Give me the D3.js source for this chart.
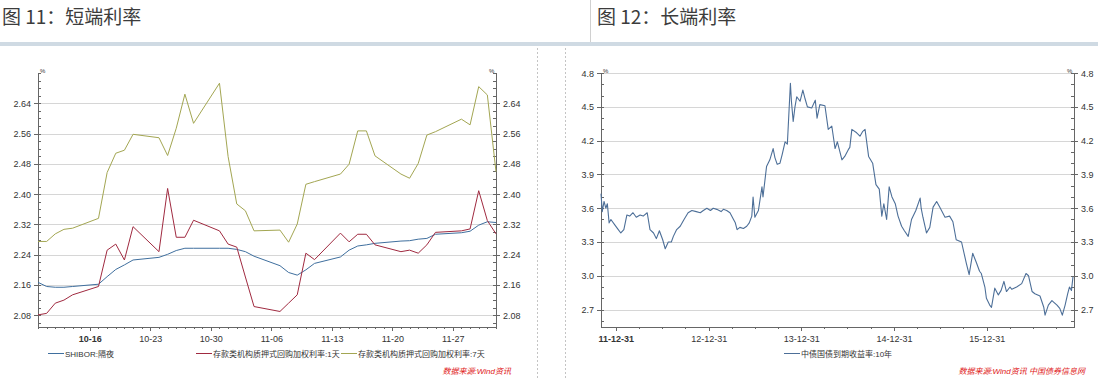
<!DOCTYPE html>
<html>
<head>
<meta charset="utf-8">
<script src="https://cdn.jsdelivr.net/npm/d3@7"></script>
<style>
body { margin: 0; background: #fff; }
svg { display: block; font-family: "Liberation Sans", "Noto Sans CJK SC", sans-serif; }
.axis path, .axis line { stroke: #666; shape-rendering: crispEdges; }
.axis text { fill: #333; font-size: 9px; }
</style>
</head>
<body>
<svg width="1098" height="379"></svg>
<script>
// ---- data: short rates (Oct-Dec 2016) ----
const rateDates = ["2016-10-10","2016-10-11","2016-10-12","2016-10-13","2016-10-14",
  "2016-10-17","2016-10-18","2016-10-19","2016-10-20","2016-10-21",
  "2016-10-24","2016-10-25","2016-10-26","2016-10-27","2016-10-28",
  "2016-10-31","2016-11-01","2016-11-02","2016-11-03","2016-11-04",
  "2016-11-07","2016-11-08","2016-11-09","2016-11-10","2016-11-11",
  "2016-11-14","2016-11-15","2016-11-16","2016-11-17","2016-11-18",
  "2016-11-21","2016-11-22","2016-11-23","2016-11-24","2016-11-25",
  "2016-11-28","2016-11-29","2016-11-30","2016-12-01","2016-12-02"];
const shibor = [2.167,2.156,2.154,2.154,2.156, 2.162,2.182,2.201,2.213,2.226,
  2.233,2.241,2.251,2.257,2.257, 2.257,2.257,2.254,2.248,2.236,
  2.211,2.193,2.186,2.200,2.217, 2.234,2.252,2.263,2.266,2.270,
  2.276,2.277,2.281,2.283,2.294, 2.298,2.302,2.318,2.327,2.325];
const dr001 = [2.081,2.085,2.112,2.120,2.134, 2.156,2.252,2.268,2.226,2.314,
  2.248,2.415,2.286,2.286,2.331, 2.303,2.268,2.260,2.181,2.103,
  2.090,2.112,2.134,2.244,2.227, 2.297,2.274,2.294,2.294,2.266,
  2.248,2.252,2.244,2.266,2.299, 2.303,2.308,2.409,2.330,2.295];
const dr007 = [2.275,2.275,2.295,2.307,2.310, 2.336,2.457,2.508,2.516,2.558,
  2.549,2.502,2.574,2.664,2.587, 2.693,2.499,2.374,2.356,2.303,
  2.305,2.273,2.321,2.426,2.433, 2.453,2.479,2.567,2.567,2.501,
  2.453,2.442,2.481,2.556,2.565, 2.598,2.583,2.684,2.662,2.459];
const rateTicks = [2.08,2.16,2.24,2.32,2.40,2.48,2.56,2.64];
const dayTicks = ["2016-10-16","2016-10-23","2016-10-30","2016-11-06","2016-11-13","2016-11-20","2016-11-27"];

// ---- data: 10y government bond yield ----
const bondDates = ["2011-11-03","2011-11-08","2011-11-15","2011-11-22","2011-11-28","2011-12-05","2011-12-12","2011-12-28",
  "2012-01-10","2012-01-20","2012-02-01","2012-02-13","2012-02-24","2012-03-08","2012-03-21","2012-04-05","2012-04-17",
  "2012-05-03","2012-05-14","2012-05-28","2012-06-08","2012-06-20","2012-07-03","2012-07-13","2012-07-25","2012-08-06",
  "2012-08-14","2012-08-27","2012-09-10","2012-09-25","2012-10-11","2012-10-26","2012-11-12","2012-11-28","2012-12-10",
  "2012-12-24","2013-01-07","2013-01-18","2013-02-01","2013-02-18","2013-02-27","2013-03-12","2013-03-25","2013-04-08",
  "2013-04-15","2013-04-22","2013-05-03","2013-05-17","2013-05-30","2013-06-09","2013-06-19","2013-06-24","2013-07-01",
  "2013-07-15","2013-07-29","2013-08-02","2013-08-16","2013-08-29","2013-09-11","2013-09-18","2013-09-27","2013-10-08",
  "2013-10-17","2013-10-28","2013-11-06","2013-11-18","2013-11-22","2013-11-29","2013-12-06","2013-12-13","2013-12-26",
  "2014-01-06","2014-01-15","2014-01-24","2014-02-10","2014-02-24","2014-03-03","2014-03-14","2014-04-03","2014-04-16",
  "2014-04-30","2014-05-13","2014-05-22","2014-06-09","2014-06-20","2014-07-04","2014-07-10","2014-07-18","2014-08-06",
  "2014-08-19","2014-08-29","2014-09-08","2014-09-22","2014-10-08","2014-10-21","2014-11-03","2014-11-13","2014-11-21",
  "2014-12-02","2014-12-12","2014-12-23","2015-01-05","2015-01-16","2015-01-30","2015-02-10","2015-02-25","2015-03-10",
  "2015-03-27","2015-04-13","2015-04-17","2015-04-24","2015-05-08","2015-05-21","2015-06-03","2015-06-17","2015-06-29",
  "2015-07-20","2015-08-07","2015-08-20","2015-09-02","2015-09-23","2015-10-12","2015-10-23","2015-11-06","2015-11-20",
  "2015-12-03","2015-12-10","2015-12-24","2015-12-30","2016-01-12","2016-01-19","2016-02-01","2016-02-15","2016-02-26",
  "2016-03-08","2016-03-18","2016-04-01","2016-04-08","2016-04-27","2016-05-17","2016-06-03","2016-06-13","2016-06-27",
  "2016-07-08","2016-07-28","2016-08-12","2016-08-17","2016-08-30","2016-09-13","2016-10-03","2016-10-14","2016-10-24",
  "2016-11-04","2016-11-14","2016-11-21","2016-11-29","2016-12-05"];
const bondYield = [3.73,3.57,3.66,3.60,3.64,3.47,3.50,3.45,
  3.41,3.38,3.41,3.54,3.53,3.56,3.52,3.54,3.53,
  3.56,3.41,3.38,3.33,3.40,3.32,3.24,3.30,3.30,
  3.35,3.41,3.44,3.50,3.56,3.58,3.57,3.56,3.58,
  3.60,3.58,3.60,3.59,3.57,3.59,3.58,3.56,3.50,
  3.47,3.41,3.43,3.42,3.44,3.47,3.53,3.70,3.52,
  3.58,3.79,3.70,3.97,4.03,4.13,4.05,3.99,4.00,
  4.08,4.19,4.17,4.71,4.55,4.37,4.50,4.59,4.55,
  4.65,4.57,4.50,4.49,4.56,4.40,4.52,4.51,4.30,
  4.33,4.13,4.19,4.03,4.06,4.12,4.14,4.30,4.27,
  4.24,4.28,4.30,4.06,4.00,3.81,3.77,3.53,3.64,
  3.50,3.79,3.70,3.64,3.53,3.44,3.40,3.35,3.50,
  3.58,3.69,3.60,3.52,3.38,3.43,3.61,3.66,3.61,
  3.52,3.53,3.48,3.32,3.30,3.11,3.01,3.20,3.12,
  3.04,3.02,2.90,2.80,2.74,2.72,2.89,2.83,2.87,
  2.95,2.86,2.90,2.88,2.90,2.93,3.02,3.00,2.86,
  2.84,2.82,2.72,2.65,2.74,2.78,2.74,2.71,2.65,
  2.74,2.84,2.90,2.87,2.99];
const bondTicks = [2.7,3.0,3.3,3.6,3.9,4.2,4.5,4.8];
const yearTicks = ["2011-12-31","2012-12-31","2013-12-31","2014-12-31","2015-12-31"];

const parse = d3.timeParse("%Y-%m-%d");
const svg = d3.select("svg");

// header
svg.append("rect").attr("x", 0).attr("y", 42).attr("width", 1098).attr("height", 4).attr("fill", "#cfdae3");
svg.append("line").attr("x1", 590.5).attr("x2", 590.5).attr("y1", 0).attr("y2", 42).attr("stroke", "#d0d0d0");
[[2, "图 11：短端利率"], [597, "图 12：长端利率"]].forEach(t => {
  svg.append("text").attr("x", t[0]).attr("y", 24).text(t[1])
    .style("font-family", "'Noto Sans CJK SC'").style("font-size", "19px").attr("fill", "#3c3c3c");
});
[537.5, 565.5].forEach(x => {
  svg.append("line").attr("x1", x).attr("x2", x).attr("y1", 48).attr("y2", 379)
    .attr("stroke", "#c4c4c4").attr("stroke-dasharray", "2,2");
});

function panel(o) {
  const g = svg.append("g");
  const x = d3.scaleTime().domain(o.xDomain).range([o.x0, o.x1]);
  const y = d3.scaleLinear().domain(o.yDomain).range([327, 72]);

  // grid
  g.append("g").selectAll("line").data(o.yTicks).join("line")
    .attr("x1", o.x0).attr("x2", o.x1)
    .attr("y1", d => Math.round(y(d)) + 0.5).attr("y2", d => Math.round(y(d)) + 0.5)
    .attr("stroke", "#d6d6d6");

  // y axes, majors outward, minors inward
  g.append("g").attr("class", "axis").attr("transform", `translate(${o.x0},0)`)
    .call(d3.axisLeft(y).tickValues(o.yTicks).tickSize(4).tickSizeOuter(0).tickFormat(o.yFmt));
  g.append("g").attr("class", "axis").attr("transform", `translate(${o.x0},0)`)
    .call(d3.axisRight(y).tickValues(o.yMinor).tickSize(3).tickSizeOuter(0).tickFormat(""));
  g.append("g").attr("class", "axis").attr("transform", `translate(${o.x1},0)`)
    .call(d3.axisRight(y).tickValues(o.yTicks).tickSize(4).tickSizeOuter(0).tickFormat(o.yFmt));
  g.append("g").attr("class", "axis").attr("transform", `translate(${o.x1},0)`)
    .call(d3.axisLeft(y).tickValues(o.yMinor).tickSize(3).tickSizeOuter(0).tickFormat(""));

  // x axis
  g.append("g").attr("class", "axis").attr("transform", "translate(0,327)")
    .call(d3.axisBottom(x).tickValues(o.xMinor).tickSize(2).tickSizeOuter(0).tickFormat(""));
  const xa = g.append("g").attr("class", "axis").attr("transform", "translate(0,327)")
    .call(d3.axisBottom(x).tickValues(o.xTicks).tickSize(4).tickSizeOuter(0).tickFormat(o.xFmt));
  xa.selectAll("text").attr("dy", "0.9em");
  xa.select(".tick text").style("font-weight", "bold");

  // percent marks
  g.append("text").attr("x", o.x0 + 2).attr("y", 73).text("%").style("font-size", "6px").attr("fill", "#333");
  g.append("text").attr("x", o.x1 - 7).attr("y", 73).text("%").style("font-size", "6px").attr("fill", "#333");

  // lines
  o.series.forEach(s => {
    const pts = s.dates.map((d, i) => ({ date: parse(d), v: s.values[i] }));
    g.append("path").datum(pts)
      .attr("fill", "none").attr("stroke", s.color).attr("stroke-width", s.width || 1)
      .attr("stroke-linejoin", "round")
      .attr("d", d3.line().x(d => x(d.date)).y(d => y(d.v)));
  });

  // legend
  o.series.forEach(s => {
    g.append("line").attr("x1", s.lx).attr("x2", s.lx + 16).attr("y1", 353.5).attr("y2", 353.5)
      .attr("stroke", s.color);
    g.append("text").attr("x", s.lx + 17).attr("y", 357).text(s.name)
      .style("font-size", "8px").attr("fill", "#333");
  });

  g.append("text").attr("x", o.srcX).attr("y", 374).attr("text-anchor", "end").text(o.source)
    .style("font-size", "8px").style("font-style", "italic").attr("fill", "#e02020");
}

panel({
  x0: 38, x1: 496,
  xDomain: [parse("2016-10-10"), parse("2016-12-02")],
  yDomain: [2.049, 2.7226],
  yTicks: rateTicks,
  yMinor: d3.range(2.06, 2.73, 0.02),
  yFmt: d3.format(".2f"),
  xTicks: dayTicks.map(parse),
  xMinor: d3.timeDay.range(parse("2016-10-10"), parse("2016-12-03")),
  xFmt: d3.timeFormat("%m-%d"),
  series: [
    { name: "SHIBOR:隔夜", dates: rateDates, values: shibor, color: "#3f6f9e", lx: 48 },
    { name: "存款类机构质押式回购加权利率:1天", dates: rateDates, values: dr001, color: "#a02a40", lx: 196 },
    { name: "存款类机构质押式回购加权利率:7天", dates: rateDates, values: dr007, color: "#a3a652", lx: 341 }
  ],
  srcX: 511, source: "数据来源:Wind资讯"
});

panel({
  x0: 601, x1: 1074,
  xDomain: [parse("2011-11-03"), parse("2016-12-09")],
  yDomain: [2.545, 4.81],
  yTicks: bondTicks,
  yMinor: d3.range(2.6, 4.81, 0.1),
  yFmt: d3.format(".1f"),
  xTicks: yearTicks.map(parse),
  xMinor: d3.timeMonth.every(3).range(parse("2011-12-31"), parse("2016-12-09")).map(d => d3.timeDay.offset(d, -1)),
  xFmt: d3.timeFormat("%y-%m-%d"),
  series: [
    { name: "中债国债到期收益率:10年", dates: bondDates, values: bondYield, color: "#4d6f98", width: 1.1, lx: 784 }
  ],
  srcX: 1085, source: "数据来源:Wind资讯 中国债券信息网"
});
</script>
</body>
</html>
